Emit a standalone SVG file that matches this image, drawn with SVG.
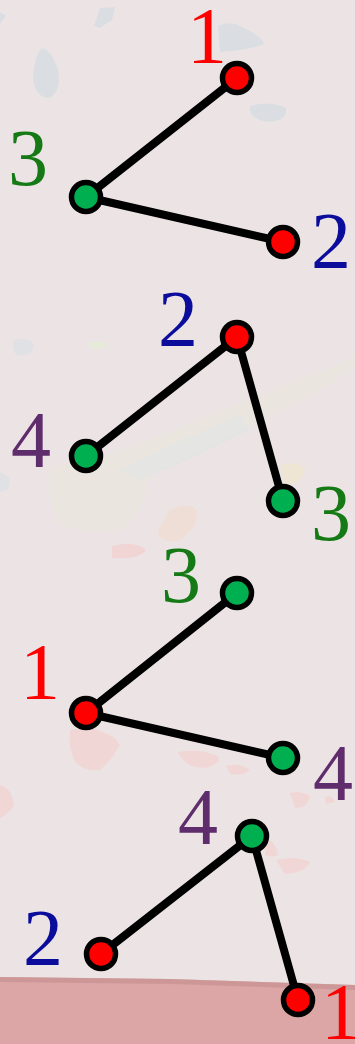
<svg xmlns="http://www.w3.org/2000/svg" width="355" height="1044" viewBox="0 0 355 1044">
<defs>
<style>
.e{stroke:#000;stroke-width:8;stroke-linecap:round}
.n{stroke:#000;stroke-width:5.5}
.r{fill:#ff0000}
.g{fill:#00b050}
text{font-family:"Liberation Serif","DejaVu Serif",serif;font-size:80px;text-anchor:middle}
.l1{fill:#ff0000}
.l2{fill:#0c0c9c}
.l3{fill:#157a15}
.l4{fill:#5f2c6c}
</style>
</defs>
<rect width="355" height="1044" fill="#ece4e4"/>
<g id="background" opacity="0.75">
<path d="M100,8 L115,7 L112,20 L100,28 L94,26 Z" fill="#d5dde3"/>
<path d="M42,48 Q52,50 58,70 Q62,90 50,98 Q36,98 33,80 Q34,55 42,48 Z" fill="#d5dde3"/>
<path d="M0,12 L6,16 L0,24 Z" fill="#d5dde3"/>
<path d="M218,26 Q230,20 240,26 Q262,36 264,44 Q250,50 220,52 Z" fill="#d5dde3"/>
<path d="M250,106 Q270,100 286,108 Q288,120 270,122 Q248,120 250,106 Z" fill="#d5dde3"/>
<path d="M14,340 Q30,336 34,346 Q32,356 18,356 Q10,350 14,340 Z" fill="#dde0e6"/>
<path d="M90,342 Q104,340 108,346 Q100,350 90,348 Z" fill="#e4ecd6"/>
<path d="M50,468 Q100,460 150,440 Q220,410 300,380 Q340,365 355,355 L355,365 Q320,395 260,420 Q200,450 150,475 Q140,520 120,530 Q90,535 60,525 Q46,500 50,468 Z" fill="#e7e8d8" opacity="0.6"/>
<path d="M120,470 Q180,440 240,415 L250,430 Q190,460 140,480 Z" fill="#dde4e6" opacity="0.6"/>
<path d="M280,465 Q300,460 305,470 Q302,485 285,485 Z" fill="#efe6cf"/>
<path d="M170,510 Q190,500 198,512 Q196,530 180,540 Q160,545 158,530 Z" fill="#f1ddd0"/>
<path d="M0,472 L10,478 L8,490 L0,492 Z" fill="#dde0e6"/>
<path d="M112,546 Q135,540 146,550 Q140,560 112,558 Z" fill="#f3d0d0"/>
<path d="M70,730 Q90,725 102,732 Q115,735 120,745 Q112,760 100,770 Q85,772 75,762 Q68,748 70,730 Z" fill="#f3d2d2"/>
<path d="M178,752 Q200,748 218,756 Q222,764 205,768 Q185,768 178,752 Z" fill="#f3d2d2"/>
<path d="M226,766 Q240,762 250,770 Q245,776 230,774 Z" fill="#f3d2d2"/>
<path d="M290,793 Q300,790 310,796 Q308,808 295,808 Z" fill="#f3d2d2"/>
<path d="M0,785 Q12,788 14,805 Q8,815 0,818 Z" fill="#f3d2d2"/>
<path d="M325,797 Q333,795 335,802 L326,804 Z" fill="#f3d2d2"/>
<path d="M267,840 Q275,840 278,855 Q272,858 265,855 Z" fill="#f3d2d2"/>
<path d="M276,860 Q295,855 310,862 Q305,873 285,874 Z" fill="#f3d2d2"/>
</g>
<g id="strip">
<path d="M0,977 L170,979 L355,985 L355,1044 L0,1044 Z" fill="#dca6a6"/>
<path d="M0,977 L170,979 L355,985 L355,990 L170,984 L0,982 Z" fill="#c79191" opacity="0.7"/>
</g>
<g id="connectors">
<line class="e" x1="86" y1="197" x2="237" y2="78"/>
<line class="e" x1="86" y1="197" x2="283" y2="242"/>
<line class="e" x1="86" y1="456" x2="237" y2="337"/>
<line class="e" x1="237" y1="337" x2="283" y2="501"/>
<line class="e" x1="86" y1="713" x2="237" y2="593"/>
<line class="e" x1="86" y1="713" x2="283" y2="758"/>
<line class="e" x1="101" y1="954" x2="252" y2="836"/>
<line class="e" x1="252" y1="836" x2="298" y2="1000"/>
</g>
<g id="g1-n1"><circle class="n r" cx="237" cy="78" r="14.5"/><text class="l1" x="207" y="63">1</text></g>
<g id="g1-n3"><circle class="n g" cx="86" cy="197" r="14.5"/><text class="l3" x="28" y="185">3</text></g>
<g id="g1-n2"><circle class="n r" cx="283" cy="242" r="14.5"/><text class="l2" x="331" y="268">2</text></g>
<g id="g2-n2"><circle class="n r" cx="237" cy="337" r="14.5"/><text class="l2" x="178" y="346">2</text></g>
<g id="g2-n4"><circle class="n g" cx="86" cy="456" r="14.5"/><text class="l4" x="31" y="467">4</text></g>
<g id="g2-n3"><circle class="n g" cx="283" cy="501" r="14.5"/><text class="l3" x="331" y="540">3</text></g>
<g id="g3-n3"><circle class="n g" cx="237" cy="593" r="14.5"/><text class="l3" x="181" y="602">3</text></g>
<g id="g3-n1"><circle class="n r" cx="86" cy="713" r="14.5"/><text class="l1" x="40" y="699">1</text></g>
<g id="g3-n4"><circle class="n g" cx="283" cy="758" r="14.5"/><text class="l4" x="333" y="800">4</text></g>
<g id="g4-n4"><circle class="n g" cx="252" cy="836" r="14.5"/><text class="l4" x="198" y="844">4</text></g>
<g id="g4-n2"><circle class="n r" cx="101" cy="954" r="14.5"/><text class="l2" x="43" y="965">2</text></g>
<g id="g4-n1"><circle class="n r" cx="298" cy="1000" r="14.5"/><text class="l1" x="341" y="1039">1</text></g>
</svg>
